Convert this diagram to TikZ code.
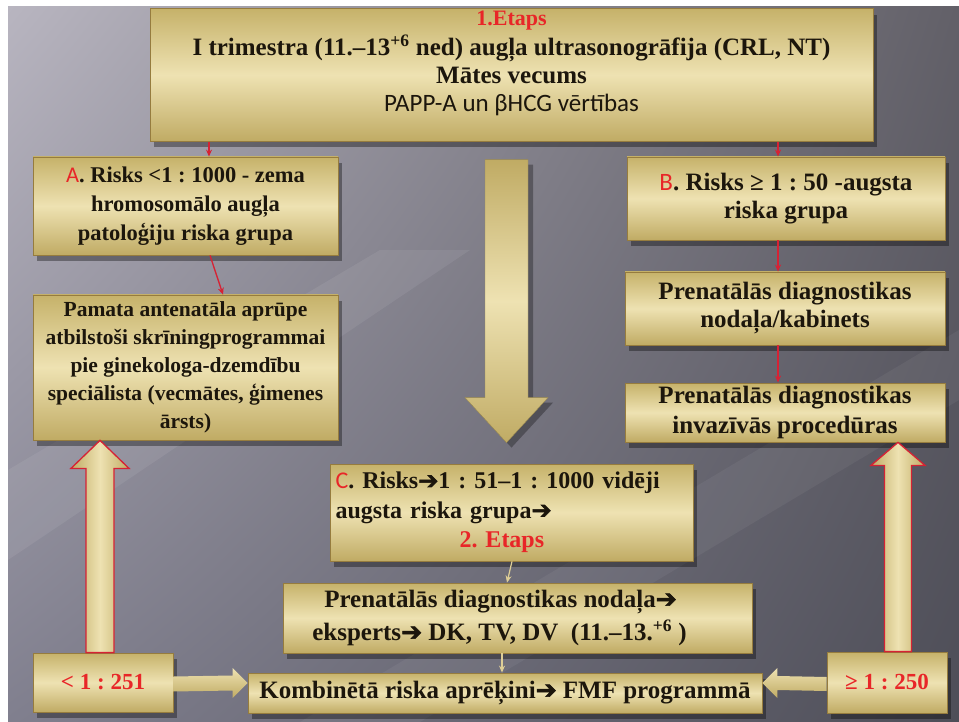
\documentclass[tikz,border=0pt]{standalone}
\usepackage{fontspec}
\setmainfont{Liberation Serif}
\newfontfamily\carl{Carlito}
\newfontfamily\dvs{DejaVu Sans}[FakeBold=2.5]
\usetikzlibrary{calc,shadows,shadings,arrows.meta}
\definecolor{bgTL}{RGB}{184,181,192}
\definecolor{bgTR}{RGB}{98,96,104}
\definecolor{bgBL}{RGB}{128,127,142}
\definecolor{bgBR}{RGB}{78,78,88}
\definecolor{tanT}{RGB}{198,178,106}
\definecolor{tanM}{RGB}{238,226,178}
\definecolor{tanB}{RGB}{192,171,100}
\definecolor{boxline}{RGB}{150,124,62}
\definecolor{txt}{RGB}{28,22,12}
\definecolor{redtxt}{RGB}{232,38,40}
\definecolor{arrred}{RGB}{214,34,52}
\definecolor{arrtan}{RGB}{222,206,150}
\newcommand{\rarr}{{\dvs\mdseries ➔}}
\newcommand{\fsz}[2]{\fontsize{#1}{#2}\selectfont}
\tikzset{
  box/.style={draw=boxline, line width=0.8pt, top color=tanT, bottom color=tanB, middle color=tanM,
    inner sep=2pt, align=center, text=txt, font=\bfseries\fsz{21.5}{28},
    drop shadow={shadow xshift=4pt, shadow yshift=-6pt, opacity=0.35, fill=black}},
  bigtext/.style={font=\bfseries\fsz{25}{28}},
  redarr/.style={draw=arrred, line width=1.3pt, -{Stealth[length=7pt,width=6pt]}},
  tanarr/.style={draw=arrtan, line width=1.2pt, -{Stealth[length=7pt,width=6pt]}},
  blockred/.style={draw=arrred, line width=1.3pt, left color=tanB, right color=tanB, middle color=tanM},
  blocktan/.style={draw=tanB!80!black, line width=0.4pt, top color=tanB, bottom color=tanB, middle color=tanM,
    drop shadow={shadow xshift=5pt, shadow yshift=-5pt, opacity=0.3, fill=black}},
  blockh/.style={top color=tanM, bottom color=tanB, draw=none},
}
\begin{document}
\frenchspacing
\begin{tikzpicture}[x=1pt,y=-1pt]
\useasboundingbox (0,0) rectangle (959,722);
\fill[white] (0,0) rectangle (959,722);
\shade[upper left=bgTL, upper right=bgTR, lower left=bgBL, lower right=bgBR] (8,7) rectangle (959,722);
\fill[white, opacity=0.07] (8,470) -- (380,250) -- (470,250) -- (8,560) -- cycle;
\fill[white, opacity=0.05] (300,722) -- (959,330) -- (959,400) -- (420,722) -- cycle;

% boxes
\node[box, bigtext, minimum width=723pt, minimum height=126pt] (top) at (511.5,75)
  {{\color{redtxt}\fsz{22}{28}1.Etaps}\\[2pt]
   I trimestra (11.–13\textsuperscript{+6} ned) augļa ultrasonogrāfija (CRL, NT)\\
   Mātes vecums\\
   {\carl\mdseries\fsz{25}{28}PAPP-A un βHCG vērtības}\\[0pt]\rule{0pt}{1pt}};

\node[box, font=\bfseries\fsz{22.5}{29}, minimum width=305pt, minimum height=98pt] (A) at (185.5,206)
  {{\carl\mdseries\color{redtxt}A}. Risks <1 : 1000 - zema\\ hromosomālo augļa\\ patoloģiju riska grupa};
\node[box, minimum width=305pt, minimum height=145pt] (P) at (185.5,367.5)
  {Pamata antenatāla aprūpe\\ atbilstoši skrīningprogrammai\\ pie ginekologa-dzemdību\\ speciālista (vecmātes, ģimenes\\ ārsts)};

\node[box, bigtext, minimum width=318pt, minimum height=83pt] (B) at (786,198.5)
  {{\carl\mdseries\color{redtxt}B}. Risks ≥ 1 : 50 -augsta\\ riska grupa};
\node[box, bigtext, minimum width=320pt, minimum height=73pt] (D1) at (785,308.5)
  {Prenatālās diagnostikas\\ nodaļa/kabinets};
\node[box, bigtext, font=\bfseries\fsz{25}{30}, minimum width=320pt, minimum height=59pt] (D2) at (785,412.5)
  {Prenatālās diagnostikas\\ invazīvās procedūras};

\node[box, font=\bfseries\fsz{24}{29.5}, minimum width=363pt, minimum height=97pt, align=left, text width=352pt] (C) at (511.5,512.5)
  {{\carl\mdseries\color{redtxt}C}. Risks\rarr1 : 51–1 : 1000 vidēji\\ augsta riska grupa\rarr\\ \hspace*{124pt}{\color{redtxt}2. Etaps}};
\node[box, font=\bfseries\fsz{25}{33}, minimum width=469pt, minimum height=70pt] (D3) at (517.5,618)
  {Prenatālās diagnostikas nodaļa\rarr\hspace*{34pt}\\ eksperts\rarr{} DK, TV, DV\ \ (11.–13.\textsuperscript{+6} )\hspace*{36pt}};
\node[box, bigtext, minimum width=514pt, minimum height=40pt] (K) at (505,693)
  {Kombinētā riska aprēķini\rarr{} FMF programmā};

\node[box, font=\bfseries\fsz{23}{28}, minimum width=140pt, minimum height=59pt, text=redtxt] (L) at (103,682.5) {< 1 : 251};
\node[box, font=\bfseries\fsz{23}{28}, minimum width=120pt, minimum height=61pt, text=redtxt] (R) at (887,682.5) {≥ 1 : 250};

% center big down arrow
\coordinate (c0) at ($(top.south)+(-5,18)$);
\coordinate (c1) at ($(c0 |- C.north)+(0,-21)$);
\path[blocktan] ($(c0)+(-21.5,0)$) -- ($(c1)+(-21.5,-45)$) -- ($(c1)+(-41.5,-45)$) -- (c1)
  -- ($(c1)+(41.5,-45)$) -- ($(c1)+(21.5,-45)$) -- ($(c0)+(21.5,0)$) -- cycle;

% left big up arrow
\coordinate (l0) at ($(L.north)+(-3,0)$);
\coordinate (l1) at (l0 |- P.south);
\path[blockred] ($(l0)+(-14,0)$) -- ($(l1)+(-14,28)$) -- ($(l1)+(-29,28)$) -- (l1)
  -- ($(l1)+(29,28)$) -- ($(l1)+(14,28)$) -- ($(l0)+(14,0)$) -- cycle;

% right big up arrow
\coordinate (r0) at ($(R.north)+(11,0)$);
\coordinate (r1) at (r0 |- D2.south);
\path[blockred] ($(r0)+(-13.5,0)$) -- ($(r1)+(-13.5,23)$) -- ($(r1)+(-27,23)$) -- (r1)
  -- ($(r1)+(27,23)$) -- ($(r1)+(13.5,23)$) -- ($(r0)+(13.5,0)$) -- cycle;

% horizontal block arrows
\coordinate (h0) at (L.east |- 0,684);
\coordinate (h1) at (K.west |- 0,683);
\path[blockh] ($(h0)+(0,-7.5)$) -- ($(h1)+(-15,-7.5)$) -- ($(h1)+(-15,-15)$) -- (h1)
  -- ($(h1)+(-15,15)$) -- ($(h1)+(-15,7.5)$) -- ($(h0)+(0,7.5)$) -- cycle;
\coordinate (g0) at (R.west |- 0,684);
\coordinate (g1) at (K.east |- 0,683);
\path[blockh] ($(g0)+(0,-7)$) -- ($(g1)+(15,-7)$) -- ($(g1)+(15,-15)$) -- (g1)
  -- ($(g1)+(15,15)$) -- ($(g1)+(15,7)$) -- ($(g0)+(0,7)$) -- cycle;

% thin connectors
\coordinate (xa) at (209,0);
\coordinate (xb) at (778,0);
\draw[redarr] (top.south -| xa) -- (A.north -| xa);
\draw[redarr] (top.south -| xb) -- (B.north -| xb);
\draw[redarr] ($(A.south)+(24.5,0)$) -- ($(P.north)+(37.5,0)$);
\draw[redarr] (B.south -| xb) -- (D1.north -| xb);
\draw[redarr] (D1.south -| xb) -- (D2.north -| xb);
\draw[tanarr] ($(C.south)+(0.5,0)$) -- ($(D3.north)+(-10.5,0)$);
\draw[tanarr] ($(D3.south)+(-15.5,0)$) -- ($(K.north)+(-3,0)$);
\end{tikzpicture}
\end{document}
